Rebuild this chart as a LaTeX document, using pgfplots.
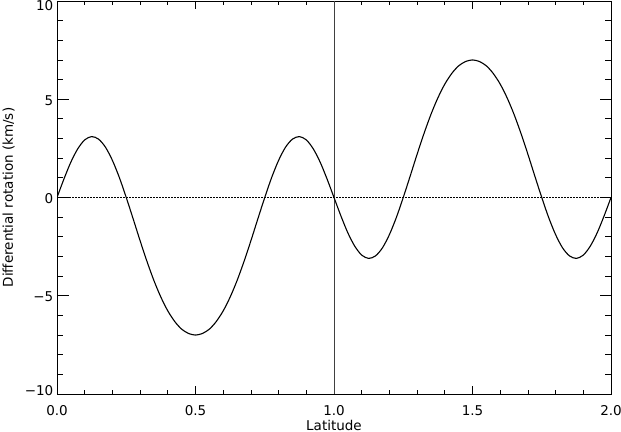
\documentclass[border=0pt]{standalone}
\usepackage{fontspec}
\setmainfont{DejaVu Sans}
\usepackage{pgfplots}
\pgfplotsset{compat=1.18}
\begin{document}
\fontsize{13.5bp}{16bp}\selectfont
\begin{tikzpicture}
\path[use as bounding box] (0,0) rectangle (621bp,432bp);
\begin{axis}[
  at={(57bp,38bp)}, anchor=south west,
  scale only axis, width=554bp, height=393bp,
  xmin=0, xmax=2, ymin=-10, ymax=10,
  xtick={0,0.5,1,1.5,2}, xticklabels={0.0,0.5,1.0,1.5,2.0},
  ytick={-10,-5,0,5,10}, yticklabels={\raisebox{4bp}{−10},−5,0,5,\raisebox{-3.5bp}{10}},
  minor x tick num=4, minor y tick num=4,
  tick align=inside,
  axis line style={line width=0.8bp},
  tick style={black, line width=0.8bp},
  xtick style={/pgfplots/major tick length=8bp, /pgfplots/minor tick length=4bp},
  ytick style={/pgfplots/major tick length=11.5bp, /pgfplots/minor tick length=6bp},
  /pgf/number format/assume math mode=true,
  xticklabel style={anchor=base, inner sep=0pt, yshift=-21bp, font=\fontsize{13.5bp}{16bp}\selectfont},
  yticklabel style={anchor=base east, inner sep=0pt, xshift=-3.5bp, yshift=-5.9bp, font=\fontsize{13.5bp}{16bp}\selectfont},
  xlabel={Latitude},
  ylabel={Differential rotation (km/s)},
  every axis x label/.style={at={(axis description cs:0.5,0)}, anchor=base, inner sep=0pt, yshift=-36bp, font=\fontsize{13.5bp}{16bp}\selectfont},
  every axis y label/.style={at={(axis description cs:0,0.5)}, xshift=-44bp, rotate=90, anchor=base, inner sep=0pt, font=\fontsize{13.5bp}{16bp}\selectfont},
]
\addplot[black, line width=0.6bp, dash pattern=on 1.5bp off 1.5bp] coordinates {(0,0) (2,0)};
\addplot[black!75, line width=1bp] coordinates {(1,-10) (1,10)};
\addplot[black, line width=1.1bp, smooth] coordinates {
(0,0) (0.025,0.94) (0.05,1.80) (0.075,2.48) (0.1,2.93) (0.125,3.10) (0.15,2.97) (0.175,2.56) (0.2,1.89) (0.225,1.02)
(0.25,0) (0.275,-1.09) (0.3,-2.20) (0.325,-3.26) (0.35,-4.23) (0.375,-5.07) (0.4,-5.77) (0.425,-6.31) (0.45,-6.70) (0.475,-6.92)
(0.5,-7.00) (0.525,-6.92) (0.55,-6.70) (0.575,-6.31) (0.6,-5.77) (0.625,-5.07) (0.65,-4.23) (0.675,-3.26) (0.7,-2.20) (0.725,-1.09)
(0.75,0) (0.775,1.02) (0.8,1.89) (0.825,2.56) (0.85,2.97) (0.875,3.10) (0.9,2.93) (0.925,2.48) (0.95,1.80) (0.975,0.94)
(1,0) (1.025,-0.94) (1.05,-1.80) (1.075,-2.48) (1.1,-2.93) (1.125,-3.10) (1.15,-2.97) (1.175,-2.56) (1.2,-1.89) (1.225,-1.02)
(1.25,0) (1.275,1.09) (1.3,2.20) (1.325,3.26) (1.35,4.23) (1.375,5.07) (1.4,5.77) (1.425,6.31) (1.45,6.70) (1.475,6.92)
(1.5,7.00) (1.525,6.92) (1.55,6.70) (1.575,6.31) (1.6,5.77) (1.625,5.07) (1.65,4.23) (1.675,3.26) (1.7,2.20) (1.725,1.09)
(1.75,0) (1.775,-1.02) (1.8,-1.89) (1.825,-2.56) (1.85,-2.97) (1.875,-3.10) (1.9,-2.93) (1.925,-2.48) (1.95,-1.80) (1.975,-0.94)
(2,0)
};
\end{axis}
\end{tikzpicture}
\end{document}
